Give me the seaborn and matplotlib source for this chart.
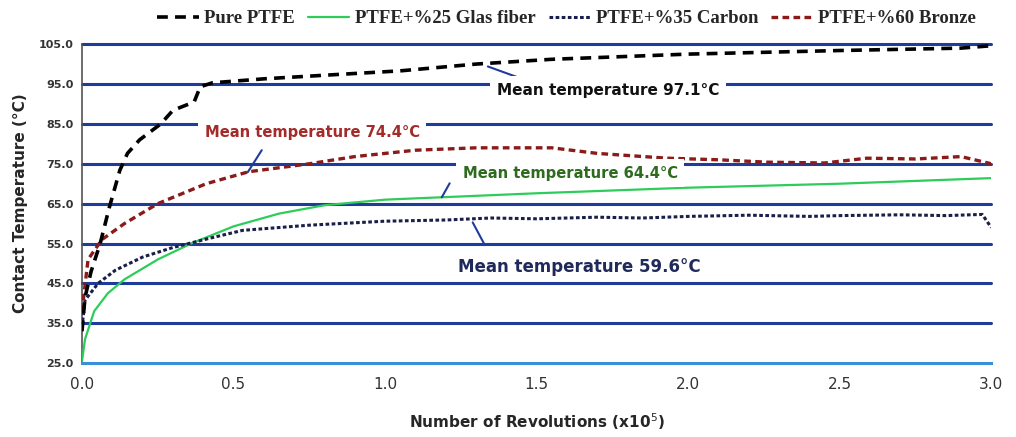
import numpy as np
import pandas as pd
import matplotlib
matplotlib.use("Agg")
import matplotlib.pyplot as plt
import seaborn as sns

# values (x in 10^5 revolutions, y in °C)
pure_x = [0.0, 0.01, 0.03, 0.06, 0.09, 0.125, 0.15, 0.19, 0.26, 0.30, 0.37, 0.39, 0.43,
          0.6, 0.8, 1.05, 1.30, 1.55, 2.0, 2.5, 2.9, 3.0]
pure_y = [33.0, 41.5, 48.0, 55.0, 64.0, 73.4, 77.6, 81.0, 85.0, 88.4, 90.5, 94.3, 95.3,
          96.3, 97.2, 98.3, 100.0, 101.2, 102.5, 103.4, 104.0, 104.6]

glass_x = [0.0, 0.01, 0.04, 0.085, 0.14, 0.25, 0.36, 0.5, 0.65, 0.8, 1.0, 1.5, 2.0, 2.5, 3.0]
glass_y = [25.5, 31.0, 38.0, 42.5, 46.0, 51.0, 55.0, 59.3, 62.5, 64.6, 66.0, 67.6, 69.0, 70.0, 71.4]

carbon_x = [0.0, 0.01, 0.053, 0.11, 0.2, 0.3, 0.42, 0.53, 0.75, 0.9, 1.0, 1.2, 1.35, 1.5,
            1.7, 1.85, 2.0, 2.2, 2.4, 2.5, 2.7, 2.85, 2.97, 3.0]
carbon_y = [34.0, 40.8, 45.0, 48.3, 51.6, 54.0, 56.3, 58.3, 59.6, 60.2, 60.6, 60.9, 61.4, 61.2,
            61.6, 61.4, 61.8, 62.1, 61.8, 62.0, 62.2, 62.0, 62.3, 59.0]

bronze_x = [0.0, 0.02, 0.066, 0.14, 0.25, 0.41, 0.55, 0.75, 0.9, 1.1, 1.3, 1.55, 1.7,
            1.93, 2.1, 2.26, 2.45, 2.59, 2.75, 2.9, 3.0]
bronze_y = [38.0, 51.0, 56.0, 60.0, 65.0, 70.0, 73.0, 75.0, 76.8, 78.4, 79.0, 79.0, 77.6,
            76.4, 76.0, 75.4, 75.2, 76.4, 76.2, 76.8, 75.0]

y_ticks = [25, 35, 45, 55, 65, 75, 85, 95, 105]
x_ticks = [0.0, 0.5, 1.0, 1.5, 2.0, 2.5, 3.0]

labels = ["Pure PTFE", "PTFE+%25 Glas fiber", "PTFE+%35 Carbon", "PTFE+%60 Bronze"]

sns.set_style("white")
plt.rcParams['font.family'] = ['DejaVu Sans']

fig = plt.figure(figsize=(10.16, 4.37), dpi=100)
ax = fig.add_axes([0.0807, 0.169, 0.895, 0.730])

grid_blue = "#1f3c9a"
for v in y_ticks[1:]:
    ax.axhline(v, color=grid_blue, lw=2.2, zorder=1, clip_on=False)

ax.plot(pure_x, pure_y, color="black", lw=2.6, dashes=(3, 2), zorder=4, label=labels[0])
sns.lineplot(x=glass_x, y=glass_y, ax=ax, color="#2ecc5a", lw=1.6, zorder=3, label=labels[1])
sns.lineplot(x=carbon_x, y=carbon_y, ax=ax, color="#1a1f4a", lw=2.2, zorder=3, label=labels[2])
ax.lines[-1].set_linestyle((0, (1.2, 0.8)))
sns.lineplot(x=bronze_x, y=bronze_y, ax=ax, color="#8b1a1a", lw=2.4, zorder=3, label=labels[3])
ax.lines[-1].set_linestyle((0, (2.0, 1.3)))

ax.set_xlim(0, 3.0)
ax.set_ylim(25, 105)
ax.set_yticks(y_ticks)
ax.set_yticklabels([f"{v:.1f}" for v in y_ticks], fontsize=8, fontweight="bold", color="#333333")
ax.set_xticks(x_ticks)
ax.set_xticklabels([f"{v:.1f}" for v in x_ticks], fontsize=11, color="#333333")
ax.set_xticks(np.arange(0, 3.01, 0.25), minor=True)
ax.tick_params(axis="x", which="both", direction="in", length=3, color="#3a8fd9", pad=10)
ax.tick_params(axis="y", length=0, pad=6)

for s in ["top", "right"]:
    ax.spines[s].set_visible(False)
ax.spines["bottom"].set_color("#3a8fd9")
ax.spines["bottom"].set_linewidth(2.2)
ax.spines["left"].set_color("#555555")
ax.spines["left"].set_linewidth(1.2)

ax.set_ylabel("Contact Temperature (°C)", fontsize=11, fontweight="bold", labelpad=8)
ax.set_xlabel("Number of Revolutions (x10$^5$)", fontsize=11, fontweight="bold", labelpad=14)

# annotations with pointer lines
notes = [
    ("Mean temperature 97.1°C", (1.339, 99.4), (1.368, 93.4), "#111111", 11.0, 0.45),
    ("Mean temperature 74.4°C", (0.547, 72.9), (0.405, 82.9), "#a52a2a", 10.6, 0.45),
    ("Mean temperature 64.4°C", (1.187, 66.6), (1.256, 72.6), "#2e6b1e", 10.6, 0.45),
    ("Mean temperature 59.6°C", (1.289, 60.3), (1.240, 49.1), "#1f2a5a", 12.0, 0.05),
]
tips = [(1.437, 96.7), (0.593, 78.4), (1.213, 70.1), (1.329, 54.6)]
for (txt, pt, pos, col, fs, pad), tip in zip(notes, tips):
    ax.plot([pt[0], tip[0]], [pt[1], tip[1]], color=grid_blue, lw=1.5, zorder=5)
    ax.text(pos[0], pos[1], txt, color=col, fontsize=fs, fontweight="bold",
            ha="left", va="center", zorder=6,
            bbox=dict(boxstyle=f"square,pad={pad}", fc="white", ec="none"))

leg = ax.legend(loc="lower center", bbox_to_anchor=(0.533, 1.0), ncol=4, frameon=False,
                handlelength=2.2, handletextpad=0.3, columnspacing=0.7,
                prop={"family": "Liberation Serif", "weight": "bold", "size": 13.5})

fig.savefig("out.png", dpi=100)
